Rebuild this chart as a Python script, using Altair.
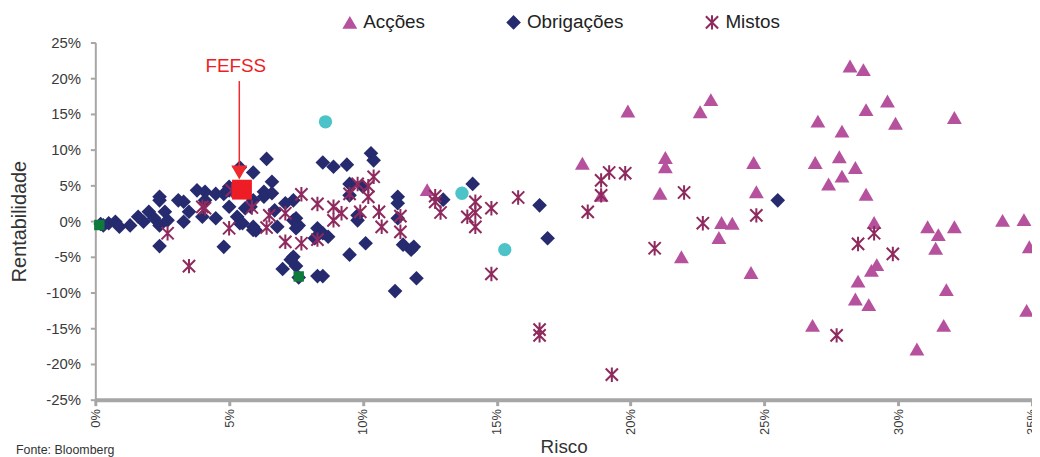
import altair as alt
import pandas as pd

# ---------------- data (risk %, return %) ----------------
categories = ["Acções", "Obrigações", "Mistos"]
cat_colors = ["#b6519e", "#262a6e", "#8e2a5d"]

acc_risk = [12.4, 18.2, 18.9, 19.9, 21.1, 21.3, 21.3, 21.9, 22.6, 23.0, 23.3, 23.4, 23.8, 24.5,
            24.6, 24.7, 26.8, 26.9, 27.0, 27.4, 27.8, 27.9, 27.9, 28.2, 28.4, 28.4, 28.5, 28.7,
            28.8, 28.8, 28.9, 29.0, 29.1, 29.2, 29.6, 29.9, 30.7, 31.1, 31.4, 31.5, 31.7, 31.8,
            32.1, 32.1, 33.9, 34.7, 34.9, 34.8]
acc_ret = [4.4, 8.1, 3.6, 15.4, 3.9, 8.9, 7.6, -5.0, 15.3, 17.0, -2.3, -0.2, -0.3, -7.2,
           8.2, 4.1, -14.6, 8.2, 14.0, 5.2, 9.0, 6.3, 12.6, 21.7, 7.5, -10.9, -8.4, 21.2,
           15.6, 3.75, -11.7, -6.9, -0.2, -6.1, 16.8, 13.7, -17.9, -0.8, -3.8, -1.9, -14.6, -9.6,
           14.5, -0.8, 0.1, 0.2, -3.6, -12.5]

obr_risk = [0.2, 0.3, 0.5, 0.75, 0.9, 1.3, 1.6, 1.8, 2.0, 2.2, 2.4, 2.6, 2.4, 2.4, 2.4, 2.7,
            3.1, 3.3, 3.3, 3.5, 3.8, 4.0, 4.1, 4.1, 4.5, 4.5, 4.8, 4.8, 5.0, 5.0, 5.0, 5.3,
            5.4, 5.4, 5.8, 5.9, 5.9, 5.9, 5.9, 6.4, 6.6, 6.3, 6.6, 6.3, 5.6, 7.1, 7.4, 6.7,
            5.5, 6.0, 6.8, 7.5, 7.4, 7.6, 7.5, 8.3, 8.5, 8.7, 8.2, 8.5, 8.9, 9.4, 10.3, 10.4,
            9.5, 9.5, 10.0, 11.3, 11.3, 11.3, 9.8, 9.8, 10.1, 9.5, 7.4, 7.3, 7.5, 7.0, 8.3,
            8.5, 7.6, 11.5, 11.8, 11.9, 12.0, 11.2, 14.1, 13.0, 16.6, 16.9, 25.5]
obr_ret = [-0.4, -0.6, -0.3, -0.1, -0.8, -0.6, 0.6, -0.1, 1.3, 0.4, -0.6, 1.3, 3.4, 2.9, -3.5, 0.1,
           2.9, -0.1, 2.7, 1.3, 4.3, 0.6, 4.1, 2.9, 0.4, 3.8, 3.8, -3.6, 4.3, 4.8, 2.0, 0.6,
           -0.3, 7.5, 2.0, -0.8, 2.9, -1.25, 6.8, 8.7, 5.5, 4.1, 3.9, 3.4, 1.8, 2.5, 2.9, 1.5,
           -0.3, -1.3, -0.8, 0.4, 0.1, -0.6, -1.0, -1.0, -1.7, -2.2, -2.4, 8.2, 7.6, 7.9, 9.5, 8.5,
           5.2, 3.6, 4.8, 3.4, 2.5, 0.4, 0.1, 0.8, -3.1, -4.7, -5.0, -5.4, -6.3, -6.7, -7.7,
           -7.7, -7.9, -3.3, -4.0, -3.6, -8.0, -9.8, 5.2, 3.0, 2.2, -2.4, 2.9]

mis_risk = [2.7, 3.5, 4.0, 4.1, 5.0, 5.1, 5.85, 6.5, 7.1, 6.4, 7.1, 7.7, 8.3, 7.7, 8.3, 8.9,
            9.2, 8.9, 9.5, 9.8, 10.2, 10.4, 10.2, 9.9, 10.6, 10.7, 11.4, 11.4, 12.7, 12.7,
            12.9, 14.2, 14.2, 13.9, 14.2, 14.8, 15.8, 14.8, 16.6, 16.6, 18.4, 18.9, 18.9,
            19.2, 19.8, 19.3, 20.9, 22.0, 22.7, 24.7, 27.7, 28.5, 29.1, 29.8]
mis_ret = [-1.7, -6.3, 2.0, 1.8, -1.0, 4.3, 1.9, 0.8, 1.1, -0.9, -2.9, -3.1, -2.6, 3.75, 2.4, 2.0,
           1.1, 0.1, 3.8, 5.2, 4.9, 6.2, 3.4, 1.3, 1.3, -0.8, -1.5, 0.7, 3.5, 2.7,
           1.2, 2.7, 1.2, 0.6, -0.8, 1.8, 3.3, -7.4, -15.2, -16.0, 1.3, 3.6, 5.7,
           6.8, 6.7, -21.5, -3.8, 4.0, -0.3, 0.8, -16.0, -3.2, -1.7, -4.6]

cyan_risk = [8.6, 13.7, 15.3]
cyan_ret = [13.9, 3.9, -4.0]
green_risk = [0.15, 7.6]
green_ret = [-0.55, -7.75]

fefss_name = ["FEFSS"]
fefss_risk = [5.48]
fefss_ret = [4.4]
arrow_risk = [5.38]
arrow_top = [19.6]
arrow_bottom = [7.4]
arrowhead_ret = [6.8]
label_risk = [5.25]
label_ret = [21.7]

source_note = ["Fonte: Bloomberg"]
x_ticks = [0, 5, 10, 15, 20, 25, 30, 35]
y_ticks = [-25, -20, -15, -10, -5, 0, 5, 10, 15, 20, 25]

# ---------------- tables ----------------
rows = []
for r, v in zip(obr_risk, obr_ret):
    rows.append({"risk": r, "ret": v, "tipo": "Obrigações"})
for r, v in zip(acc_risk, acc_ret):
    rows.append({"risk": r, "ret": v, "tipo": "Acções"})
for r, v in zip(mis_risk, mis_ret):
    rows.append({"risk": r, "ret": v, "tipo": "Mistos"})
df_main = pd.DataFrame(rows)
df_cyan = pd.DataFrame({"risk": cyan_risk, "ret": cyan_ret})
df_green = pd.DataFrame({"risk": green_risk, "ret": green_ret})
df_fefss = pd.DataFrame({"risk": fefss_risk, "ret": fefss_ret})
df_arrow = pd.DataFrame({"risk": arrow_risk, "ret": arrow_top, "ret2": arrow_bottom})
df_head = pd.DataFrame({"risk": arrow_risk, "ret": arrowhead_ret})
df_label = pd.DataFrame({"risk": label_risk, "ret": label_ret, "name": fefss_name})
df_note = pd.DataFrame({"t": source_note})

AXIS_GRAY = "#a6a6a6"
TEXT = "#3a3a3a"

x_scale = alt.Scale(domain=[0, 35], nice=False, zero=True)
y_scale = alt.Scale(domain=[-25, 25], nice=False)

x_axis = alt.Axis(values=x_ticks, labelExpr="datum.value + '%'", labelAngle=270,
                  labelFontSize=13, labelPadding=3, labelFlush=False, labelOverlap=False,
                  tickSize=6, tickWidth=3, domainWidth=4, titlePadding=3,
                  titleFontSize=19, titleFontWeight="normal", titleColor="#333333")
y_axis = alt.Axis(values=y_ticks, labelExpr="datum.value + '%'", labelFontSize=15,
                  labelPadding=10, tickSize=5, tickWidth=2, domainWidth=2,
                  titlePadding=16, titleFontSize=20, titleFontWeight="normal",
                  titleColor="#333333")


def X(field="risk"):
    return alt.X(f"{field}:Q", scale=x_scale, axis=x_axis, title="Risco")


def Y(field="ret"):
    return alt.Y(f"{field}:Q", scale=y_scale, axis=y_axis, title="Rentabilidade")


# asterisk-like filled symbol: three thin bars (vertical + two diagonals)
mistos_path = ("M-0.14,-1L-0.14,1L0.14,1L0.14,-1Z"
               "M-0.95,-0.75L0.75,0.95L0.95,0.75L-0.75,-0.95Z"
               "M-0.75,0.95L0.95,-0.75L0.75,-0.95L-0.95,0.75Z")

leg = alt.Legend(orient="none", legendX=247, legendY=-30, direction="horizontal",
                 title=None, labelFontSize=19, labelColor="#222222", symbolSize=140,
                 columnPadding=79, labelOffset=4, padding=0)

main = alt.Chart(df_main).mark_point(filled=True, opacity=1).encode(
    x=X(), y=Y(),
    color=alt.Color("tipo:N", scale=alt.Scale(domain=categories, range=cat_colors), legend=leg),
    shape=alt.Shape("tipo:N", scale=alt.Scale(domain=categories,
                                              range=["triangle-up", "diamond", mistos_path]),
                    legend=leg),
    size=alt.Size("tipo:N", scale=alt.Scale(domain=categories, range=[225, 210, 240]), legend=None),
)

cyan = alt.Chart(df_cyan).mark_circle(size=180, color="#4bc3c9", opacity=1).encode(x=X(), y=Y())
green = alt.Chart(df_green).mark_square(size=110, color="#0e7b3d", opacity=1).encode(x=X(), y=Y())
arrow = alt.Chart(df_arrow).mark_rule(color="#ee2a2e", strokeWidth=1.5).encode(
    x=X(), y=Y(), y2="ret2:Q")
head = alt.Chart(df_head).mark_point(shape="triangle-down", filled=True, size=260,
                                      color="#ee2a2e", opacity=1).encode(x=X(), y=Y())
fefss = alt.Chart(df_fefss).mark_square(size=400, color="#ee1d25", opacity=1).encode(x=X(), y=Y())
label = alt.Chart(df_label).mark_text(color="#ee1d25", fontSize=19, align="center",
                                      baseline="middle").encode(x=X(), y=Y(), text="name:N")
note = alt.Chart(df_note).mark_text(fontSize=12.5, align="left", baseline="middle",
                                    color="#333333").encode(
    x=alt.value(-80), y=alt.value(411), text="t:N")

chart = alt.layer(main, cyan, green, arrow, head, fefss, label, note).properties(
    width=944, height=360,
    autosize=alt.AutoSizeParams(type="none"),
    padding={"left": 88, "top": 33, "right": 0, "bottom": 56},
).configure(font="Liberation Sans").configure_view(stroke=None).configure_axis(
    grid=False, domainColor=AXIS_GRAY, tickColor=AXIS_GRAY, labelColor=TEXT,
    labelFont="Liberation Sans", titleFont="Liberation Sans",
)

chart.save("out.html", embed_options={"renderer": "svg", "actions": False})
